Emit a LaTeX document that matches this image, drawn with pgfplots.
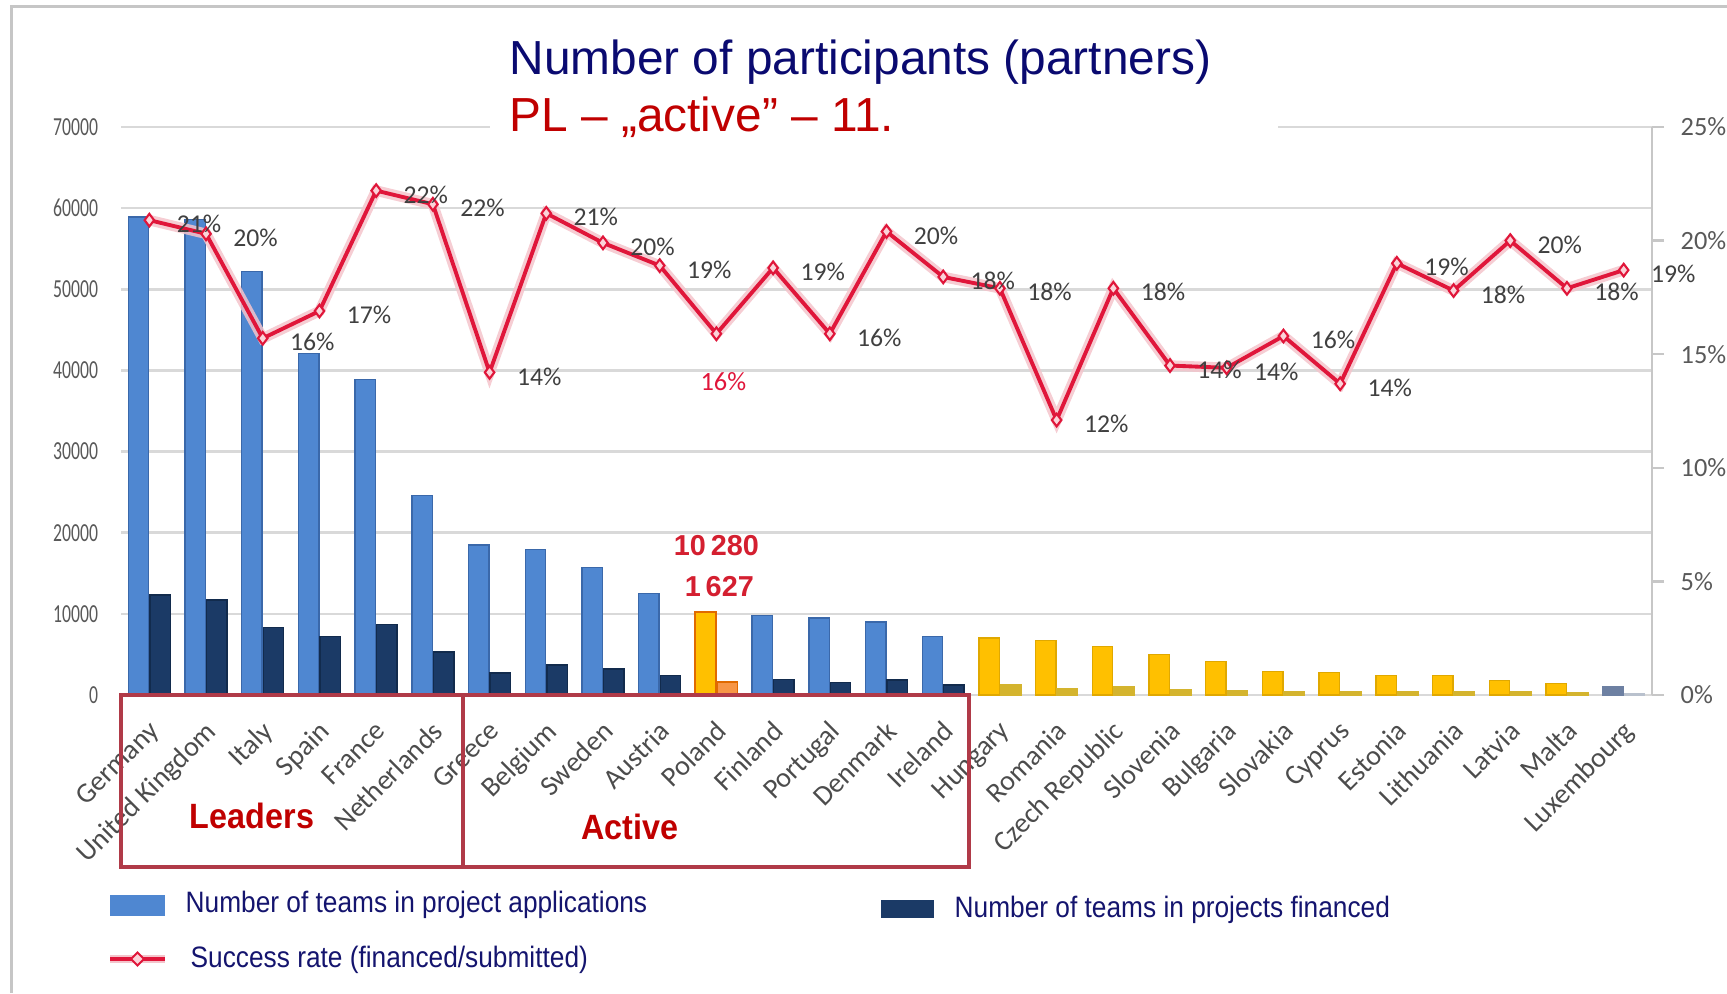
\documentclass[border=0pt]{standalone}
\usepackage{fontspec}
\setmainfont{Liberation Sans}
\newfontfamily\carlito{Carlito}
\usepackage{graphicx}
\usepackage{pgfplots}
\usepackage{pgfplotstable}
\pgfplotsset{compat=1.18}

\definecolor{appblue}{HTML}{4F87D1}
\definecolor{appedge}{HTML}{3A68AA}
\definecolor{finnavy}{HTML}{1B3A66}
\definecolor{finedge}{HTML}{122B4D}
\definecolor{nmsyellow}{HTML}{FFC000}
\definecolor{nmsedge}{HTML}{E0A800}
\definecolor{nmsfin}{HTML}{D4B42E}
\definecolor{plapp}{HTML}{FFC000}
\definecolor{pledge}{HTML}{E06A00}
\definecolor{plfin}{HTML}{F79646}
\definecolor{luxapp}{HTML}{6D80A2}
\definecolor{luxfin}{HTML}{B9C1CD}
\definecolor{ratered}{HTML}{E0163A}
\definecolor{halo}{HTML}{F4C4CB}
\definecolor{markfill}{HTML}{FBD3D9}
\definecolor{gridgray}{HTML}{D9D9D9}
\definecolor{ticgray}{HTML}{595959}
\definecolor{labgray}{HTML}{404040}
\definecolor{titlenavy}{HTML}{0A0A70}
\definecolor{darkred}{HTML}{C00000}
\definecolor{boxred}{HTML}{B03A48}
\definecolor{plred}{HTML}{D41F30}
\definecolor{legnavy}{HTML}{14146E}

% applications / financed, old member states (blue / navy)
\pgfplotstableread{
x app fin
0 58900 12300
1 58600 11700
2 52200 8300
3 42100 7200
4 38900 8700
5 24600 5300
6 18500 2700
7 17900 3700
8 15700 3200
9 12500 2400
11 9800 1900
12 9500 1550
13 9000 1850
14 7200 1250
}\oldms
% Poland
\pgfplotstableread{
x app fin
10 10280 1627
}\poland
% new member states (yellow)
\pgfplotstableread{
x app fin
15 7000 1250
16 6700 820
17 6000 1080
18 5000 700
19 4100 580
20 2900 460
21 2800 390
22 2400 460
23 2400 430
24 1800 360
25 1400 250
}\nms
% Luxembourg
\pgfplotstableread{
x app fin
26 1000 190
}\lux
% success rate (%)
\pgfplotstableread{
x r lab
0 20.9 21
1 20.3 20
2 15.7 16
3 16.9 17
4 22.2 22
5 21.6 22
6 14.2 14
7 21.2 21
8 19.9 20
9 18.9 19
10 15.9 16
11 18.8 19
12 15.9 16
13 20.4 20
14 18.4 18
15 17.9 18
16 12.1 12
17 17.9 18
18 14.5 14
19 14.4 14
20 15.8 16
21 13.7 14
22 19.0 19
23 17.8 18
24 20.0 20
25 17.9 18
26 18.7 19
}\rates
% labelled points (Poland labelled separately)
\pgfplotstableread{
x r lab
0 20.9 21
1 20.3 20
2 15.7 16
3 16.9 17
4 22.2 22
5 21.6 22
6 14.2 14
7 21.2 21
8 19.9 20
9 18.9 19
11 18.8 19
12 15.9 16
13 20.4 20
14 18.4 18
15 17.9 18
16 12.1 12
17 17.9 18
18 14.5 14
19 14.4 14
20 15.8 16
21 13.7 14
22 19.0 19
23 17.8 18
24 20.0 20
25 17.9 18
26 18.7 19
}\ratelabels

\begin{document}
\begin{tikzpicture}
\pgfplotsset{
  common/.style={
    at={(12.1mm,29.8mm)}, anchor=south west,
    scale only axis, width=153.1mm, height=56.8mm,
    xmin=-0.5, xmax=26.5,
    /pgf/number format/assume math mode=true,
  },
}
% ---------- bars ----------
\begin{axis}[common,
  ymin=0, ymax=70000,
  axis lines*=left,
  y axis line style={draw=none},
  x axis line style={draw=gridgray, line width=0.25mm},
  ytick={0,10000,...,70000},
  scaled y ticks=false,
  /pgf/number format/1000 sep={},
  yticklabel={\scalebox{0.68}[1]{\pgfmathprintnumber{\tick}}},
  ymajorgrids, grid style={draw=gridgray, line width=0.25mm},
  major tick length=0pt,
  yticklabel style={font=\carlito\fontsize{7.4}{8}\selectfont, text=ticgray, xshift=-3pt},
  xtick={0,...,26},
  xticklabels={Germany,United Kingdom,Italy,Spain,France,Netherlands,Greece,Belgium,Sweden,Austria,Poland,Finland,Portugal,Denmark,Ireland,Hungary,Romania,Czech Republic,Slovenia,Bulgaria,Slovakia,Cyprus,Estonia,Lithuania,Latvia,Malta,Luxembourg},
  xticklabel style={xshift=-0.6pt, yshift=-2pt, rotate=45, anchor=north east, font=\carlito\fontsize{8}{9}\selectfont, text=ticgray!85!black},
  bar width=0.36,
]
\addplot[ybar, bar shift=-0.19, fill=appblue, draw=appedge] table[x=x,y=app]{\oldms};
\addplot[ybar, bar shift=0.19, fill=finnavy, draw=finedge] table[x=x,y=fin]{\oldms};
\addplot[ybar, bar shift=-0.19, fill=plapp, draw=pledge, line width=0.6pt,
  nodes near coords={10\,280},
  every node near coord/.style={anchor=center, yshift=6.6mm, font=\bfseries\fontsize{8.2}{9}\selectfont, text=plred}] table[x=x,y=app]{\poland};
\addplot[ybar, bar shift=0.19, fill=plfin, draw=pledge,
  nodes near coords={1\,627},
  every node near coord/.style={anchor=center, yshift=9.5mm, xshift=0.3mm, font=\bfseries\fontsize{8.2}{9}\selectfont, text=plred}] table[x=x,y=fin]{\poland};
\addplot[ybar, bar shift=-0.19, fill=nmsyellow, draw=nmsedge] table[x=x,y=app]{\nms};
\addplot[ybar, bar shift=0.19, fill=nmsfin, draw=nmsfin] table[x=x,y=fin]{\nms};
\addplot[ybar, bar shift=-0.19, fill=luxapp, draw=luxapp] table[x=x,y=app]{\lux};
\addplot[ybar, bar shift=0.19, fill=luxfin, draw=luxfin] table[x=x,y=fin]{\lux};
\end{axis}
% ---------- success rate ----------
\begin{axis}[common,
  ymin=0, ymax=25,
  axis x line=none,
  axis y line*=right,
  y axis line style={draw=gridgray!80!gray, line width=0.25mm},
  ytick={0,5,...,25},
  yticklabel={\pgfmathprintnumber{\tick}\%},
  major tick length=1.2mm,
  tick style={draw=gridgray!80!gray, line width=0.25mm},
  tick align=outside,
  yticklabel style={font=\carlito\fontsize{7.5}{8}\selectfont, text=ticgray, xshift=1.2pt},
]
\addplot[no marks, line width=3pt, color=halo, opacity=0.85] table[x=x,y=r]{\rates};
\addplot[color=ratered, line width=1.1pt, mark=diamond*, mark size=1.8pt,
  mark options={fill=markfill, draw=ratered, line width=0.6pt}] table[x=x,y=r]{\rates};
\addplot[draw=none, only marks, mark=none, point meta=explicit,
  nodes near coords={\pgfmathprintnumber[fixed,precision=0]{\pgfplotspointmeta}\%},
  every node near coord/.style={anchor=west, xshift=1.5mm, yshift=-0.4mm, font=\carlito\fontsize{7.3}{8}\selectfont, text=labgray}]
  table[x=x,y=r,meta=lab]{\ratelabels};
\addplot[draw=none, only marks, mark=none,
  nodes near coords={16\%},
  every node near coord/.style={anchor=center, xshift=0.7mm, yshift=-4.8mm, font=\carlito\fontsize{7.5}{8}\selectfont, text=ratered}]
  coordinates {(10,15.9)};
\end{axis}

% title background covering the top gridline
\fill[white] (49.0mm,84.2mm) rectangle (127.8mm,98mm);
\node[anchor=base west, text=titlenavy, font=\fontsize{13.6}{16}\selectfont, inner sep=0pt] at (50.9mm,91.8mm) {Number of participants (partners)};
\node[anchor=base west, text=darkred, font=\fontsize{13.6}{16}\selectfont, inner sep=0pt] at (50.9mm,86.1mm) {PL – „active” – 11.};

% group boxes
\draw[boxred, line width=0.9pt] (12.1mm,29.8mm) rectangle (46.3mm,12.6mm);
\draw[boxred, line width=0.9pt] (46.3mm,29.8mm) rectangle (96.9mm,12.6mm);
\node[text=darkred, font=\bfseries\fontsize{10}{12}\selectfont] at (25.2mm,17.7mm) {\scalebox{0.92}[1]{Leaders}};
\node[text=darkred, font=\bfseries\fontsize{10}{12}\selectfont] at (63.0mm,16.6mm) {\scalebox{0.92}[1]{Active}};

% legend
\fill[appblue] (11.0mm,7.7mm) rectangle (16.5mm,9.8mm);
\node[anchor=base west, inner sep=0pt, text=legnavy, font=\fontsize{8.4}{10}\selectfont] at (18.5mm,8.1mm) {\scalebox{0.89}[1]{Number of teams in project applications}};
\fill[finnavy] (88.1mm,7.5mm) rectangle (93.4mm,9.3mm);
\node[anchor=base west, inner sep=0pt, text=legnavy, font=\fontsize{8.4}{10}\selectfont] at (95.4mm,7.6mm) {\scalebox{0.89}[1]{Number of teams in projects financed}};
\draw[halo, line width=2.5pt] (11.0mm,3.4mm) -- (16.5mm,3.4mm);
\draw[ratered, line width=1.1pt] (11.0mm,3.4mm) -- (16.5mm,3.4mm);
\draw[fill=markfill, draw=ratered, line width=0.6pt] (13.75mm,4.05mm) -- (14.4mm,3.4mm) -- (13.75mm,2.75mm) -- (13.1mm,3.4mm) -- cycle;
\node[anchor=base west, inner sep=0pt, text=legnavy, font=\fontsize{8.4}{10}\selectfont] at (19.0mm,2.6mm) {\scalebox{0.89}[1]{Success rate (financed/submitted)}};

% slide frame lines
\draw[gray!45, line width=0.3mm] (1.1mm,0mm) -- (1.1mm,98.6mm) -- (172.7mm,98.6mm);

\pgfresetboundingbox
\path[use as bounding box] (0mm,0mm) rectangle (172.7mm,99.3mm);
\end{tikzpicture}
\end{document}
